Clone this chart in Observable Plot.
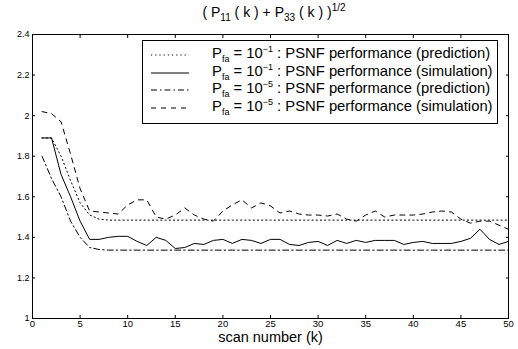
<!DOCTYPE html>
<html>
<head>
<meta charset="utf-8">
<script src="https://cdn.jsdelivr.net/npm/d3@7"></script>
<script src="https://cdn.jsdelivr.net/npm/@observablehq/plot@0.6"></script>
<style>
  html, body { margin: 0; padding: 0; background: #fff; }
  #wrap { position: relative; width: 518px; height: 349px; font-family: "Liberation Sans", Arial, sans-serif; color: #000; }
  #title { position: absolute; left: 0; width: 548px; top: 4px; text-align: center; font-size: 14px; }
  #title sub, #title sup { font-size: 10px; }
  #legend { position: absolute; left: 142px; top: 40px; width: 356px; height: 84px; border: 1px solid #000; background: #fff; box-sizing: border-box; }
  .row { position: absolute; left: 0; height: 17px; font-size: 14.8px; white-space: nowrap; }
  .row svg { position: absolute; left: 8px; top: 6px; }
  .row span.t { position: absolute; left: 69px; top: -2px; }
  sub, sup { font-size: 9px; line-height: 0; }
  sub { vertical-align: -4px; }
  sup { vertical-align: 6px; }
</style>
</head>
<body>
<div id="wrap"></div>
<script>
const k = [1,2,3,4,5,6,7,8,9,10,11,12,13,14,15,16,17,18,19,20,21,22,23,24,25,26,27,28,29,30,31,32,33,34,35,36,37,38,39,40,41,42,43,44,45,46,47,48,49,50];
// Pfa = 1e-1 prediction (dotted)
const predA = [1.89,1.89,1.80,1.68,1.57,1.51,1.49,1.485,1.485,1.485,1.485,1.485,1.485,1.485,1.485,1.485,1.485,1.485,1.485,1.485,1.485,1.485,1.485,1.485,1.485,1.485,1.485,1.485,1.485,1.485,1.485,1.485,1.485,1.485,1.485,1.485,1.485,1.485,1.485,1.485,1.485,1.485,1.485,1.485,1.485,1.485,1.485,1.485,1.485,1.485];
// Pfa = 1e-1 simulation (solid)
const simA = [1.89,1.89,1.71,1.60,1.48,1.39,1.39,1.40,1.405,1.405,1.38,1.36,1.40,1.385,1.345,1.35,1.37,1.365,1.385,1.39,1.37,1.39,1.385,1.37,1.39,1.39,1.365,1.36,1.375,1.38,1.36,1.385,1.37,1.385,1.375,1.385,1.385,1.385,1.365,1.375,1.38,1.37,1.37,1.37,1.38,1.395,1.44,1.39,1.365,1.38];
// Pfa = 1e-5 prediction (dash-dot)
const predB = [1.80,1.69,1.60,1.48,1.40,1.35,1.34,1.337,1.337,1.337,1.337,1.337,1.337,1.337,1.337,1.337,1.337,1.337,1.337,1.337,1.337,1.337,1.337,1.337,1.337,1.337,1.337,1.337,1.337,1.337,1.337,1.337,1.337,1.337,1.337,1.337,1.337,1.337,1.337,1.337,1.337,1.337,1.337,1.337,1.337,1.337,1.337,1.337,1.337,1.337];
// Pfa = 1e-5 simulation (dashed)
const simB = [2.02,2.01,1.97,1.81,1.64,1.53,1.525,1.52,1.515,1.56,1.585,1.585,1.50,1.49,1.51,1.545,1.51,1.49,1.48,1.53,1.56,1.585,1.545,1.57,1.555,1.52,1.53,1.515,1.51,1.51,1.505,1.515,1.49,1.48,1.51,1.53,1.50,1.51,1.51,1.51,1.515,1.525,1.53,1.525,1.49,1.47,1.48,1.48,1.46,1.44];

const xTicks = [0,5,10,15,20,25,30,35,40,45,50];
const yTicks = [1,1.2,1.4,1.6,1.8,2,2.2,2.4];
const legendLabels = [
  ['10<sup>\u22121</sup>', 'PSNF performance (prediction)'],
  ['10<sup>\u22121</sup>', 'PSNF performance (simulation)'],
  ['10<sup>\u22125</sup>', 'PSNF performance (prediction)'],
  ['10<sup>\u22125</sup>', 'PSNF performance (simulation)']
];
const dashes = ["1.2,3", null, "6,3,1.5,3", "5,5"];
const seriesList = [predA, simA, predB, simB];

const rows = [];
seriesList.forEach((vals, s) => vals.forEach((v, i) => rows.push({k: k[i], v, s})));

const fmt = d => String(+d.toFixed(1));
const lineMarks = seriesList.map((vals, s) =>
  Plot.line(rows.filter(r => r.s === s), {x: "k", y: "v", stroke: "#000", strokeWidth: 1, strokeDasharray: dashes[s]})
);

const chart = Plot.plot({
  width: 518,
  height: 349,
  marginLeft: 32,
  marginRight: 10,
  marginTop: 34,
  marginBottom: 31,
  style: {fontFamily: "Liberation Sans, Arial, sans-serif", fontSize: "9px", background: "#fff", color: "#000"},
  x: {domain: [0, 50]},
  y: {domain: [1, 2.4]},
  marks: [
    Plot.frame({stroke: "#000", strokeWidth: 1}),
    Plot.axisX(xTicks, {anchor: "bottom", tickSize: -3, tickPadding: 5, tickFormat: fmt, label: null, fontSize: 9.5}),
    Plot.axisX(xTicks, {anchor: "top", tickSize: -3, tickFormat: () => "", label: null}),
    Plot.axisY(yTicks, {anchor: "left", tickSize: -3, tickPadding: 6, tickFormat: fmt, label: null, fontSize: 9}),
    Plot.axisY(yTicks, {anchor: "right", tickSize: -3, tickFormat: () => "", label: null}),
    ...lineMarks,
    Plot.text(["scan number (k)"], {frameAnchor: "bottom", dy: 23, fontSize: 14.5})
  ]
});

const wrap = document.getElementById("wrap");
wrap.appendChild(chart);

const title = document.createElement("div");
title.id = "title";
title.innerHTML = "( P<sub>11</sub> ( k ) + P<sub>33</sub> ( k ) )<sup>1/2</sup>";
wrap.appendChild(title);

const legend = document.createElement("div");
legend.id = "legend";
legendLabels.forEach((lab, i) => {
  const row = document.createElement("div");
  row.className = "row";
  row.style.top = (6 + i * 17.5) + "px";
  const da = dashes[i] ? ` stroke-dasharray="${dashes[i]}"` : "";
  row.innerHTML = `<svg width="40" height="4"><line x1="0" y1="2" x2="38" y2="2" stroke="#000" stroke-width="1"${da}/></svg>` +
    `<span class="t">P<sub>fa</sub> = ${lab[0]} : ${lab[1]}</span>`;
  legend.appendChild(row);
});
wrap.appendChild(legend);
</script>
</body>
</html>
